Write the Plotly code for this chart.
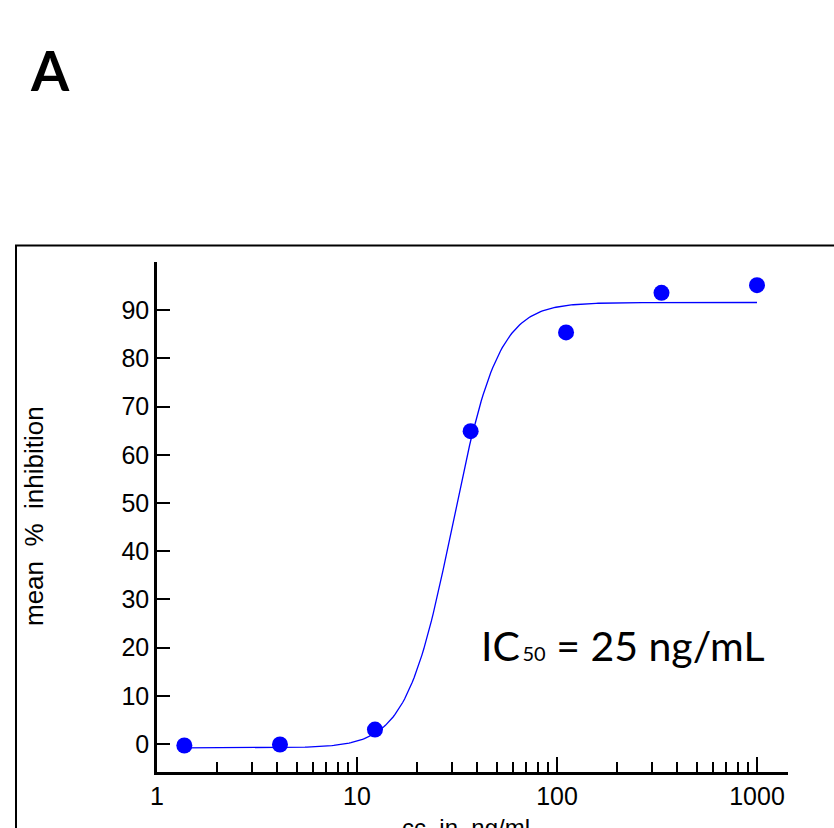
import numpy as np
import plotly.graph_objects as go

# ---- data ----
conc_ng_ml = [1.37, 4.12, 12.3, 37.0, 111.0, 333.0, 1000.0]
mean_inhibition = [-0.3, -0.1, 3.0, 64.9, 85.4, 93.6, 95.2]

# fitted 4-parameter logistic
fit_bottom = -0.8
fit_top = 91.6
fit_ec_mid = 30.0
fit_hill = 3.8

x_tick_vals = [1, 10, 100, 1000]
x_tick_text = ["1", "10", "100", "1000"]
y_tick_vals = [0, 10, 20, 30, 40, 50, 60, 70, 80, 90]

x_title = "cc\u00a0\u00a0in\u00a0\u00a0ng/ml"
y_title = "mean\u00a0\u00a0%\u00a0\u00a0inhibition"
panel_label = "A"
ic50_text = "IC\u200a<span style='font-size:20px'>50</span> = 25 ng/mL"

# ---- layout geometry (pixels; page margin removed below) ----
W, H = 834, 828
L, R, T, B = 157, 788, 262, 772


def px(xp):
    return (xp - L) / (R - L)


def py(yp):
    return (B - yp) / (B - T)


xc = np.logspace(np.log10(min(conc_ng_ml)), np.log10(max(conc_ng_ml)), 300)
yc = fit_bottom + (fit_top - fit_bottom) / (1 + (fit_ec_mid / xc) ** fit_hill)

fig = go.Figure()
fig.add_trace(go.Scatter(x=xc, y=yc, mode="lines",
                         line=dict(color="#0000FF", width=1.3),
                         hoverinfo="skip", showlegend=False))
fig.add_trace(go.Scatter(x=conc_ng_ml, y=mean_inhibition, mode="markers",
                         marker=dict(color="#0000FF", size=16, line=dict(width=0)),
                         showlegend=False))

font_ax = "Liberation Sans, Arial, sans-serif"

fig.update_layout(
    width=W, height=H,
    margin=dict(l=L, r=W - R, t=T, b=H - B, pad=0),
    paper_bgcolor="white", plot_bgcolor="white",
    xaxis=dict(
        type="log", range=[0, 3.155],
        tickmode="array", tickvals=x_tick_vals, ticktext=x_tick_text,
        ticks="inside", ticklen=15, tickwidth=2, tickcolor="black",
        minor=dict(ticks="inside", ticklen=10, tickwidth=1.6, tickcolor="black",
                   dtick="D1", showgrid=False),
        showline=True, linecolor="black", linewidth=2.5,
        showgrid=False, zeroline=False,
        tickfont=dict(family=font_ax, size=25, color="black"),
    ),
    yaxis=dict(
        range=[-5.8, 100],
        tickmode="array", tickvals=y_tick_vals,
        ticks="inside", ticklen=13, tickwidth=2, tickcolor="black",
        showline=True, linecolor="black", linewidth=2.5,
        showgrid=False, zeroline=False,
        tickfont=dict(family=font_ax, size=25, color="black"),
    ),
    shapes=[dict(type="rect", xref="paper", yref="paper",
                 x0=px(16), x1=px(860), y0=py(245.5), y1=py(860),
                 line=dict(color="black", width=2), fillcolor="rgba(0,0,0,0)",
                 layer="below")],
    annotations=[
        dict(text=y_title, xref="paper", yref="paper", x=px(34), y=py(516),
             xanchor="center", yanchor="middle", textangle=-90, showarrow=False,
             font=dict(family=font_ax, size=26, color="black")),
        dict(text=x_title, xref="paper", yref="paper", x=px(466), y=py(812),
             xanchor="center", yanchor="top", showarrow=False,
             font=dict(family=font_ax, size=24, color="black")),
        dict(text=panel_label, xref="paper", yref="paper", x=px(28), y=py(70),
             xanchor="left", yanchor="middle", showarrow=False,
             font=dict(family="Lato, Open Sans, sans-serif", size=55, color="black", weight="bold")),
        dict(text=ic50_text, xref="paper", yref="paper", x=px(479), y=py(645),
             xanchor="left", yanchor="middle", showarrow=False,
             font=dict(family="Lato, Open Sans, sans-serif", size=41, color="black")),
    ],
)

fig.write_html("out.html",
               config={"displayModeBar": False},
               post_script="document.body.style.margin='0';document.body.style.overflow='hidden';")
